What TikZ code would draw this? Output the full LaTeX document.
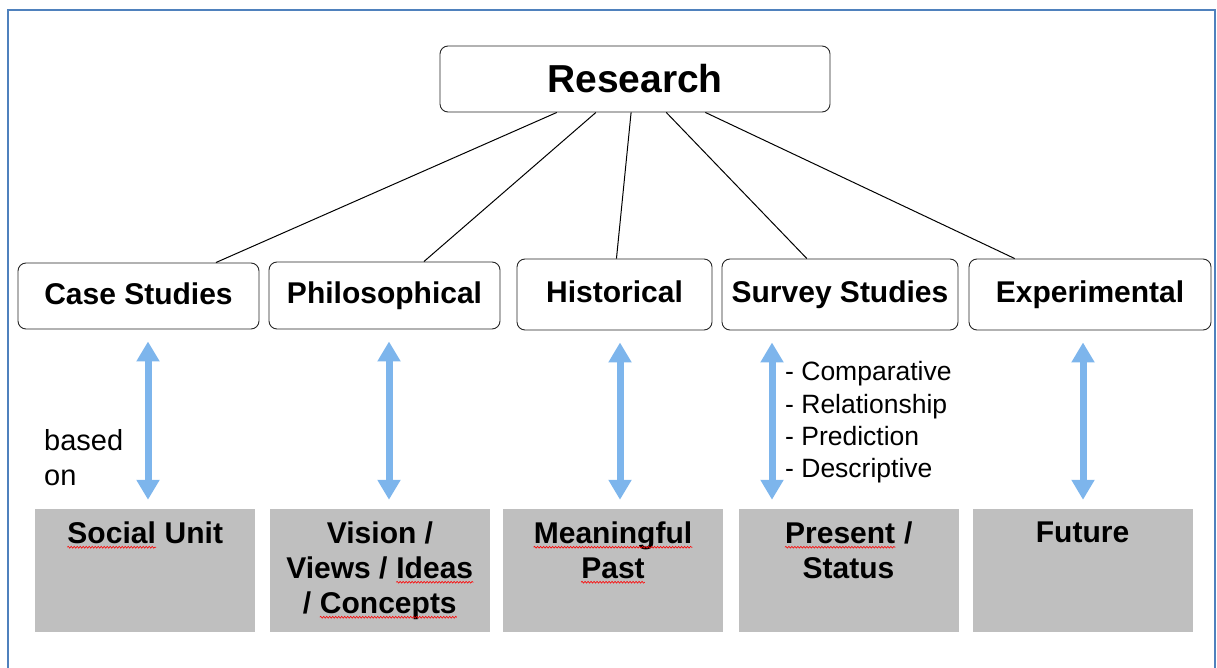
\documentclass[tikz,border=0pt]{standalone}
\usepackage{fontspec}
\setmainfont{Liberation Sans}
\usetikzlibrary{arrows.meta,calc,decorations.pathmorphing}
\definecolor{framebl}{RGB}{79,129,189}
\definecolor{arrbl}{RGB}{125,181,236}
\definecolor{boxgray}{RGB}{191,191,191}
\newcommand{\typo}[1]{\tikz[baseline=(w.base)]{\node[inner sep=0pt] (w) {#1};
  \draw[red, line width=0.6pt, decorate, decoration={snake, amplitude=0.9pt, segment length=3pt}]
    ([yshift=-3.5pt]w.base west) -- ([yshift=-3.5pt]w.base east);}}
\begin{document}
\begin{tikzpicture}[x=1pt, y=-1pt,
  topbox/.style={draw=black!85, rounded corners=8pt, line width=0.9pt, inner sep=0pt,
    text height=22pt, text depth=6pt, font=\fontsize{30}{36}\selectfont\bfseries},
  graybox/.style={fill=boxgray, inner sep=0pt, minimum width=220pt, minimum height=123pt},
  graytext/.style={anchor=north, align=center, inner sep=0pt,
    font=\fontsize{30}{35}\selectfont\bfseries},
  twoway/.style={arrbl, line width=7pt,
    {Triangle[width=22pt,length=20pt]}-{Triangle[width=22pt,length=20pt]},
    shorten <=12pt, shorten >=9pt}]
  \useasboundingbox (0,0) rectangle (1217,668);
  \draw[framebl, line width=2pt] (8,668) -- (8,10) -- (1214.5,10) -- (1214.5,668);

  \node[topbox, minimum width=390pt, minimum height=66pt, text height=28pt, text depth=0pt,
    font=\fontsize{39}{46}\selectfont\bfseries] (res) at (635,79) {Research};
  \node[topbox, minimum width=241pt, minimum height=66pt] (cs) at (138.5,296) {Case Studies};
  \node[topbox, minimum width=231pt, minimum height=67pt] (ph) at (384.5,295.5) {Philosophical};
  \node[topbox, minimum width=195pt, minimum height=71pt] (hi) at (614.5,294.5) {Historical};
  \node[topbox, minimum width=236pt, minimum height=71pt] (su) at (840,294.5) {Survey Studies};
  \node[topbox, minimum width=242pt, minimum height=71pt] (ex) at (1090,294.5) {Experimental};

  \foreach \n/\x in {g1/145, g2/380, g3/613, g4/848.5, g5/1082.5}
    \node[graybox] (\n) at (\x,570.5) {};
  \node[graytext] (t1) at ([yshift=-13pt]g1.north) {\typo{Social} Unit};
  \node[graytext] (t2) at ([yshift=-13pt]g2.north) {Vision /\\Views / \typo{Ideas}\\/ \typo{Concepts}};
  \node[graytext] (t3) at ([yshift=-13pt]g3.north) {\typo{Meaningful}\\\typo{Past}};
  \node[graytext] (t4) at ([yshift=-13pt]g4.north) {\typo{Present} /\\Status};
  \node[graytext] (t5) at ([yshift=-13pt]g5.north) {Future};

  \foreach \n/\a/\b in {cs/0.30/0.82, ph/0.40/0.67, hi/0.49/0.51, su/0.58/0.36, ex/0.68/0.19}
    \draw[line width=1pt] ($(res.south west)!\a!(res.south east)$) -- ($(\n.north west)!\b!(\n.north east)$);

  \foreach \n/\g/\x in {cs/g1/148, ph/g2/389, hi/g3/620, su/g4/772, ex/g5/1083} {
    \coordinate (a\n) at (\x,0);
    \draw[twoway] (\n.south -| a\n) -- (\g.north -| a\n);
  }

  \node[anchor=north west, align=left, inner sep=0pt, font=\fontsize{29}{35}\selectfont]
    (based) at (44,429) {based\\on};
  \node[anchor=north west, align=left, inner sep=0pt, font=\fontsize{26.5}{32.3}\selectfont]
    (svlist) at (785,361.5) {- Comparative\\- Relationship\\- Prediction\\- Descriptive};
\end{tikzpicture}
\end{document}
